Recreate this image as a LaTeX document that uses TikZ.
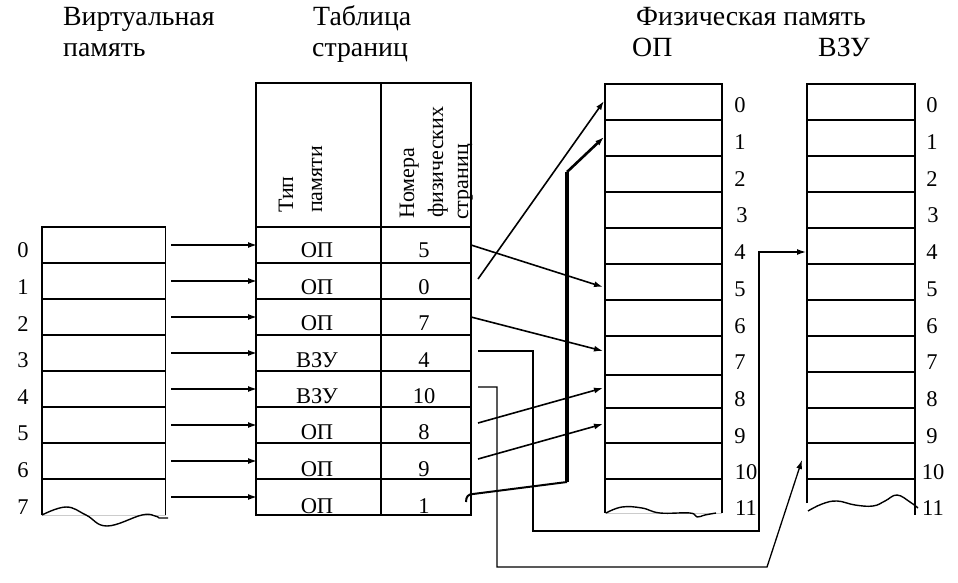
\documentclass[tikz,border=0pt]{standalone}
\usepackage{fontspec}
\setmainfont{Liberation Serif}
\usetikzlibrary{arrows.meta}
\begin{document}
\begin{tikzpicture}[x=1pt,y=-1pt,
  box/.style={line width=1.4pt},
  faint/.style={line width=0.8pt,gray!40},
  conn/.style={line width=1.6pt,-{Latex[length=9pt,width=6pt]}},
  wire/.style={line width=1.3pt},
  title/.style={font=\fontsize{27.8}{32}\selectfont,inner sep=0pt},
  lbl/.style={font=\fontsize{22.5}{26}\selectfont,inner sep=0pt},
  hdr/.style={font=\fontsize{22}{26}\selectfont,inner sep=0pt,rotate=90,anchor=base west},
]
\useasboundingbox (0,0) rectangle (958,583);

% titles
\node[title,anchor=base west] (tv1) at (63,26) {Виртуальная};
\node[title,anchor=base west] (tv2) at (63,57) {память};
\node[title,anchor=base west] (tt1) at (313,26) {Таблица};
\node[title,anchor=base west] (tt2) at (312,57) {страниц};
\node[title,anchor=base] (tf) at (751,26) {Физическая память};
\node[title,anchor=base west] (top) at (632,57) {ОП};
\node[title,anchor=base west] (tvz) at (818,57) {ВЗУ};

% virtual memory box
\draw[box] (42,515) -- (42,227) -- (165.5,227) -- (165.5,515);
\foreach \y in {263,299,335,371,407,443,479} \draw[box] (42,\y) -- (165.5,\y);
\draw[faint] (42,515) -- (165.5,515);
\draw[box] plot[smooth,tension=0.7] coordinates {(42,515) (66,507) (86,515) (107,526) (142,515) (155,516) (159,518)} -- (168,518);
\foreach \i/\yy in {0/250,1/287,2/324,3/360,4/397,5/433,6/470,7/507}
  \node[lbl] (vl\i) at (23,\yy) {\i};

% page table
\draw[box] (256,83) rectangle (471,515);
\draw[box] (381,83) -- (381,515);
\foreach \y in {227,263,299,335,371,407,443,479} \draw[box] (256,\y) -- (471,\y);
\node[hdr] (h1) at (293,213) {Тип};
\node[hdr] (h2) at (322,213) {памяти};
\node[hdr] (h3) at (414,219) {Номера};
\node[hdr] (h4) at (443,218) {физических};
\node[hdr] (h5) at (468,220) {страниц};
\foreach \i/\t/\n/\yy in {0/ОП/5/250,1/ОП/0/287,2/ОП/7/323,3/ВЗУ/4/360,4/ВЗУ/10/396,5/ОП/8/432,6/ОП/9/469,7/ОП/1/506}{
  \node[lbl] (tp\i) at (317,\yy) {\t};
  \node[lbl] (tn\i) at (424,\yy) {\n};
}

% arrows virtual -> table
\foreach \i in {0,...,7}{
  \coordinate (va\i) at (171,245+36*\i);
  \coordinate (ta\i) at (257,245+36*\i);
  \draw[conn,line width=1.5pt] (va\i) -- (ta\i);
}

% OP box
\draw[box] (605,513) -- (605,84) -- (722,84) -- (722,513);
\foreach \y in {120,156,192,228,264,300,336,375,408,443,479} \draw[box] (605,\y) -- (722,\y);
\draw[faint] (605,513) -- (722,513);
\draw[box] plot[smooth,tension=0.7] coordinates {(606,513) (622,507) (642,508) (660,513) (690,513) (697,517) (705,515) (716,513)};
\foreach \i/\xx/\yy in {0/740/105,1/740/142,2/740/179,3/742/215,4/740/252,5/740/289,6/740/326,7/740/362,8/740/399,9/740/436,10/746/472,11/746/508}
  \node[lbl] (ol\i) at (\xx,\yy) {\i};

% VZU box
\draw[box] (807,503) -- (807,84) -- (915,84) -- (915,515);
\foreach \y in {120,156,192,228,264,300,336,372,408,443,479} \draw[box] (807,\y) -- (915,\y);
\draw[box] plot[smooth,tension=0.7] coordinates {(808,511) (822,504) (837,501) (855,505) (873,506) (885,501) (897,495) (910,502) (918,508)};
\foreach \i/\xx/\yy in {0/932/105,1/932/142,2/932/179,3/933/215,4/932/252,5/932/289,6/932/326,7/932/362,8/932/399,9/932/436,10/933/472,11/933/508}
  \node[lbl] (zl\i) at (\xx,\yy) {\i};

% connectors table -> physical
\coordinate (s0) at (471,245); \coordinate (e0) at (603,287);
\coordinate (s1) at (478,279); \coordinate (e1) at (604,101);
\coordinate (s2) at (471,317); \coordinate (e2) at (603,351);
\coordinate (s5) at (478,423); \coordinate (e5) at (603,388);
\coordinate (s6) at (478,459); \coordinate (e6) at (603,424);
\draw[conn] (s0) -- (e0);
\draw[conn] (s1) -- (e1);
\draw[conn] (s2) -- (e2);
\draw[conn] (s5) -- (e5);
\draw[conn] (s6) -- (e6);

% row 7 -> OP 1 (thick)
\coordinate (s7) at (466,502);
\coordinate (k1) at (567,482);
\coordinate (k2) at (567,172);
\coordinate (e7) at (604,137);
\draw[line width=2pt] (s7) .. controls (466,497) and (468,494) .. (473,494) -- (k1);
\draw[line width=3.6pt] (k1) -- (k2);
\draw[conn,line width=2.6pt] (k2) -- (e7);

% row 3 -> VZU 4
\coordinate (s3) at (478,351);
\coordinate (b3) at (533,531);
\coordinate (c3) at (759,252);
\coordinate (e3) at (806,252);
\draw[wire,-{Latex[length=9pt,width=6pt]}] (s3) -| (b3) -| (c3) -- (e3);

% row 4 -> VZU 10
\coordinate (s4) at (478,387);
\coordinate (b4) at (497,567);
\coordinate (c4) at (767,567);
\coordinate (e4) at (802,460);
\draw[wire,-{Latex[length=9pt,width=6pt]}] (s4) -| (b4) -- (c4) -- (e4);
\end{tikzpicture}
\end{document}
